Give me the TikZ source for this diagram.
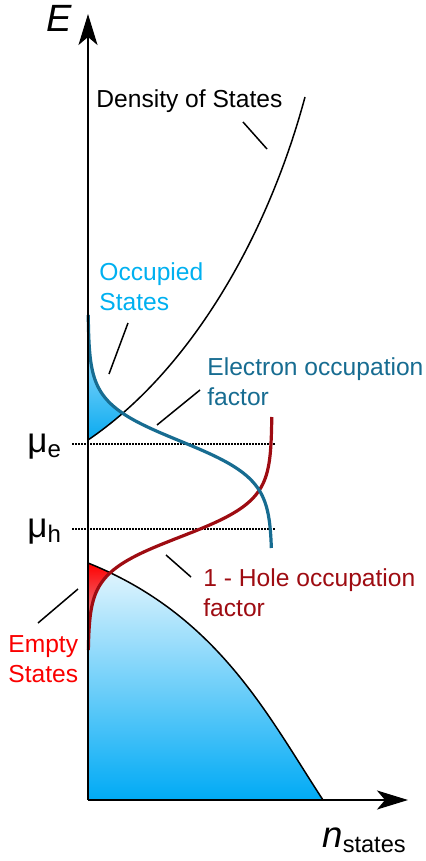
\documentclass[tikz,border=0pt]{standalone}
\usepackage{fontspec}
\setmainfont{Liberation Sans}
\usepackage{xcolor}
\usetikzlibrary{arrows.meta}

\definecolor{elecblue}{RGB}{23,108,145}
\definecolor{holered}{RGB}{158,12,18}
\definecolor{occblue}{RGB}{0,176,240}
\definecolor{emptyred}{RGB}{250,0,0}
\definecolor{occtop}{RGB}{190,235,255}
\definecolor{occbot}{RGB}{10,170,240}
\definecolor{valtop}{RGB}{232,247,254}
\definecolor{valbot}{RGB}{0,170,245}
\definecolor{emptytop}{RGB}{255,0,0}
\definecolor{emptybot}{RGB}{225,200,215}

\begin{document}
\begin{tikzpicture}[
  x=0.5pt, y=-0.5pt,
  axis/.style={line width=1pt, -{Stealth[length=15.5pt, width=9.5pt, inset=4pt]}},
  dos/.style={line width=0.75pt},
  occ/.style={line width=1.6pt},
  level/.style={line width=0.75pt, dash pattern=on 0.75pt off 0.75pt},
  pointer/.style={line width=0.75pt},
  lbl/.style={anchor=north west, inner sep=0pt, align=left, font=\fontsize{12.3}{15}\selectfont},
]
\useasboundingbox (0,0) rectangle (426,861);

% axes corners
\coordinate (origin) at (88,800);
\coordinate (etop) at (88,14);
\coordinate (nend) at (408,800);

% valence band states
\shade[top color=valtop, bottom color=valbot]
  (88,563) .. controls (218,615) and (268,716) .. (323,800) -- (origin) -- cycle;

% empty states
\begin{scope}
  \clip (88,563) .. controls (218,615) and (268,716) .. (323,800) -- (origin) -- cycle;
  \clip plot[variable=\t, domain=417:650, samples=120] ({88+184/(1+exp((\t-537)/18))},\t)
    -- (88,650) -- (88,417) -- cycle;
  \shade[top color=emptytop, bottom color=emptybot] (88,563) rectangle (130,650);
\end{scope}

% occupied states
\begin{scope}
  \clip (88,440) .. controls (187,373) and (266,242) .. (305,97) -- (88,97) -- cycle;
  \clip plot[variable=\t, domain=315:548, samples=120] ({88+184/(1+exp(-(\t-441)/19))},\t)
    -- (88,548) -- cycle;
  \shade[top color=occtop, bottom color=occbot] (88,315) rectangle (140,440);
\end{scope}

% density of states
\draw[dos] (88,440) .. controls (187,373) and (266,242) .. (305,97);
\draw[dos] (88,563) .. controls (218,615) and (268,716) .. (323,800);

% chemical potentials
\coordinate (mue-l) at (72,444);
\coordinate (mue-r) at (275,444);
\coordinate (muh-l) at (72,529);
\coordinate (muh-r) at (275,529);
\draw[level] (mue-l) -- (mue-r);
\draw[level] (muh-l) -- (muh-r);

% occupation factors
\draw[occ, holered] plot[variable=\t, domain=417:650, samples=120] ({88+184/(1+exp((\t-537)/18))},\t);
\draw[occ, elecblue] plot[variable=\t, domain=315:548, samples=120] ({88+184/(1+exp(-(\t-441)/19))},\t);

\draw[axis] (origin) -- (etop);
\draw[axis] (origin) -- (nend);

% labels
\node[anchor=base west, inner sep=0pt] (elab) at (46,32) {\fontsize{19}{22}\selectfont\itshape E};
\node[anchor=base west, inner sep=0pt] (nlab) at (322,847)
  {\fontsize{18.3}{20}\selectfont\itshape n\raisebox{-2.5pt}{\upshape\fontsize{11.8}{14}\selectfont states}};
\node[anchor=base west, inner sep=0pt] (muelab) at (27,452)
  {\fontsize{17.5}{20}\selectfont μ\raisebox{-2.5pt}{\fontsize{12}{14}\selectfont e}};
\node[anchor=base west, inner sep=0pt] (muhlab) at (27,537)
  {\fontsize{17.5}{20}\selectfont μ\raisebox{-2.5pt}{\fontsize{12}{14}\selectfont h}};

\node[lbl] (doslab) at (96,89) {Density of States};
\node[lbl, text=occblue] (occlab) at (99,262) {Occupied\\States};
\node[lbl, text=elecblue] (eleclab) at (207,357) {Electron occupation\\factor};
\node[lbl, text=holered] (holelab) at (203,568) {1 - Hole occupation\\factor};
\node[lbl, text=emptyred] (emptylab) at (8,635) {Empty\\States};

% pointers
\coordinate (dos-a) at (243,122);  \coordinate (dos-b) at (267,149);
\coordinate (occ-a) at (128,323);  \coordinate (occ-b) at (109,374);
\coordinate (elec-a) at (200,390); \coordinate (elec-b) at (157,425);
\coordinate (hole-a) at (191,577); \coordinate (hole-b) at (166,555);
\coordinate (emp-a) at (38,623);   \coordinate (emp-b) at (78,589);
\draw[pointer] (dos-a) -- (dos-b);
\draw[pointer] (occ-a) -- (occ-b);
\draw[pointer] (elec-a) -- (elec-b);
\draw[pointer] (hole-a) -- (hole-b);
\draw[pointer] (emp-a) -- (emp-b);
\end{tikzpicture}
\end{document}
